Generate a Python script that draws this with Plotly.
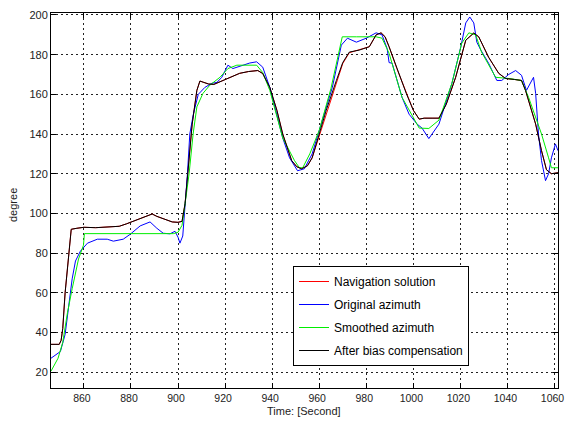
import plotly.graph_objects as go

# ---- data ----
t_nav = [846, 849.5, 850.3, 851, 852, 853, 854, 854.6, 857, 860, 865, 870, 875, 878, 882, 886, 889, 891, 894, 897.5, 900, 901.7, 903, 904.5, 906, 908, 909.3, 911, 913, 915.2, 918, 920, 923, 926.2, 930, 933.9, 936, 939, 942, 944.5, 948.3, 950.5, 952.5, 955, 957, 960, 963, 967.3, 970, 972.8, 977, 981.3, 984.2, 986.3, 988, 989.7, 993, 997, 1000, 1002.5, 1004.6, 1008, 1010.9, 1014, 1018, 1022.3, 1025.7, 1027.8, 1030, 1032, 1036.3, 1039.2, 1043, 1046, 1047.7, 1050, 1052, 1054.5, 1056.6, 1058.7, 1061.5]
v_nav = [34, 34, 36, 42, 60, 74, 88, 92, 92.5, 93, 92.8, 93, 93.5, 94.7, 96.5, 98.5, 99.7, 98.5, 97.2, 95.7, 95.5, 96, 105, 125, 145, 162, 166.7, 166, 165.2, 165, 166.5, 167.6, 169, 170.6, 171.5, 172, 170.5, 163.5, 152, 140, 126.6, 123.5, 122.5, 124, 128, 139, 151, 166, 175.5, 181, 182.3, 184, 190, 191, 189, 184, 173, 160.5, 152, 147.5, 148, 148, 148, 155, 168.6, 187.3, 190.9, 189, 184, 178.7, 170.6, 168, 167.5, 167, 162, 153, 145, 131.6, 122, 120, 120.5]

t_bias = [846, 849.5, 850.3, 851, 852, 853, 854, 854.6, 857, 860, 865, 870, 875, 878, 882, 886, 889, 891, 894, 897.5, 900, 901.7, 903, 904.5, 906, 908, 909.3, 911, 913, 915.2, 918, 920, 923, 926.2, 930, 933.9, 936, 939, 942, 944.5, 948.3, 950.5, 952.5, 955, 957, 960, 963, 967.3, 970, 972.8, 977, 981.3, 984.2, 986.3, 988, 989.7, 993, 997, 1000, 1002.5, 1004.6, 1008, 1010.9, 1014, 1018, 1022.3, 1025.7, 1027.8, 1030, 1032, 1036.3, 1039.2, 1043, 1046, 1047.7, 1050, 1052, 1054.5, 1056.6, 1058.7, 1061.5]
v_bias = [34, 34, 36, 42, 60, 74, 88, 92, 92.5, 93, 92.8, 93, 93.5, 94.7, 96.5, 98.5, 99.7, 98.5, 97.2, 95.7, 95.5, 96, 105, 125, 145, 162, 166.7, 166, 165.2, 165, 166.5, 167.6, 169, 170.6, 171.5, 172, 170.5, 163.5, 152, 140, 126.6, 123.5, 122.5, 124, 128, 140, 152, 167, 176, 181.3, 182.3, 184, 190, 191, 189, 184, 173, 160.5, 152, 147.5, 148, 148, 148, 155, 168.6, 187.3, 190.9, 189, 184, 178.7, 170.6, 168, 167.5, 167, 162, 153, 145, 131.6, 122, 120, 120.5]

t_orig = [846, 848.7, 850, 852, 853.4, 855, 856.4, 858.5, 861.5, 865.7, 869.9, 872.5, 876.7, 879.7, 883.9, 888.1, 891, 893.7, 896.6, 898.7, 900, 900.8, 902, 903.2, 904, 905, 906.5, 908.6, 911.4, 914.4, 916.5, 918.6, 921.2, 923.3, 926.2, 930.5, 933.4, 936, 939, 942, 944.5, 947.4, 950.8, 953.7, 957, 960, 965.6, 969.4, 972, 975.8, 980, 984.2, 986.7, 988.9, 989.7, 991, 995.2, 998.2, 1001.6, 1003.7, 1006.6, 1010.9, 1016.4, 1020.2, 1022.3, 1024, 1025.7, 1027, 1028.7, 1032, 1035.5, 1037.6, 1040.5, 1043.5, 1046, 1048.1, 1049.8, 1051.1, 1052, 1053.2, 1054.5, 1056.2, 1057.5, 1058.7, 1060.4, 1061.5]
v_orig = [27, 29.6, 30.4, 39, 52, 67, 76, 81, 85, 87, 87, 86, 87, 89.5, 93.7, 95.7, 92.5, 90, 89.7, 91, 88, 85, 88.6, 105, 120, 140, 150, 160, 163.5, 165.6, 166, 168.6, 174.7, 173, 174, 175.8, 176.4, 173.7, 163.5, 150, 138, 128, 121.5, 122.5, 130, 141.8, 163.6, 184.8, 188.3, 186.3, 188.3, 191, 190, 183, 176, 175.7, 158.5, 150, 145, 143, 137.7, 145, 165.5, 184, 196, 199, 196, 186.3, 182.3, 175.7, 167, 167, 170, 172, 169.6, 162, 165.5, 168.6, 160.5, 140, 126.6, 116.5, 120, 128, 135, 131.6]

t_smooth = [846, 849, 851, 853, 855, 857.7, 859.8, 860.2, 880, 898, 900, 901.7, 903, 904.7, 906.4, 908, 910.6, 913.5, 917.8, 921.2, 925, 933.4, 936, 939, 944.5, 949.5, 951.6, 953, 956, 960, 965, 969.8, 975.8, 984.2, 986.7, 989.7, 995.2, 1002.5, 1006.6, 1010.9, 1016.4, 1020.6, 1023.6, 1026.5, 1029, 1035, 1040.5, 1046, 1049, 1054.5, 1057.5, 1058.7, 1061.5]
v_smooth = [20.5, 27, 35, 50, 62, 77, 84, 89.8, 89.8, 89.8, 90.5, 94, 105, 120, 140, 153.7, 160.5, 164.6, 168.6, 173, 174.7, 174.7, 171, 162, 138, 126.6, 123, 123, 130, 141.8, 163, 189, 189, 189, 188.3, 180.7, 158.5, 143, 142.8, 147, 165.5, 185.8, 191, 190, 181.3, 168.6, 168, 167, 158.5, 140, 128, 123, 123]

x_ticks = [860, 880, 900, 920, 940, 960, 980, 1000, 1020, 1040, 1060]
y_ticks = [20, 40, 60, 80, 100, 120, 140, 160, 180, 200]

FONT = "Liberation Sans, Arial, sans-serif"
TXT = "#222222"

fig = go.Figure()
series = [
    ("Navigation solution", t_nav, v_nav, "#ff0000"),
    ("Original azimuth", t_orig, v_orig, "#0000ff"),
    ("Smoothed azimuth", t_smooth, v_smooth, "#00ee00"),
    ("After bias compensation", t_bias, v_bias, "#000000"),
]
for i, (name, t, v, c) in enumerate(series):
    fig.add_trace(go.Scatter(x=t, y=v, mode="lines", name=name,
                             legendgroup=f"g{i}",
                             line=dict(color=c, width=1)))

axis_common = dict(
    showline=True, linecolor="black", linewidth=1, mirror="ticks",
    ticks="inside", ticklen=5, tickcolor="black",
    showgrid=True, gridcolor="#222222", gridwidth=1, griddash="2px,3px",
    zeroline=False, automargin=False, ticklabeloverflow="allow",
)

fig.update_xaxes(range=[846, 1061.5], tickvals=x_ticks, ticklabelshift=-2,
                 tickfont=dict(family=FONT, size=10.5, color=TXT), **axis_common)
fig.update_yaxes(range=[12, 201], tickvals=y_ticks,
                 tickfont=dict(family=FONT, size=11, color=TXT), **axis_common)

fig.add_annotation(text="Time: [Second]", xref="paper", yref="paper",
                   x=(304 - 51) / 507, y=-(411 - 388) / 375,
                   xanchor="center", yanchor="middle", showarrow=False,
                   font=dict(family=FONT, size=11, color=TXT))
fig.add_annotation(text="degree", xref="paper", yref="paper",
                   x=-(51 - 13) / 507, y=(388 - 205) / 375, textangle=-90,
                   xanchor="center", yanchor="middle", showarrow=False,
                   font=dict(family=FONT, size=11, color=TXT))

fig.update_layout(
    width=565, height=424,
    margin=dict(l=51, r=7, t=13, b=36, autoexpand=False),
    paper_bgcolor="white", plot_bgcolor="white",
    font=dict(family=FONT, size=11, color=TXT),
    showlegend=True,
    legend=dict(x=(293 - 51) / 507, y=(388 - 266) / 375, xanchor="left", yanchor="top",
                bgcolor="white", bordercolor="black", borderwidth=1,
                font=dict(family=FONT, size=12, color="black"),
                traceorder="grouped", tracegroupgap=4, itemwidth=30),
)

fig.write_html("out.html", config={"displayModeBar": False},
               post_script="document.body.style.margin='0';")
